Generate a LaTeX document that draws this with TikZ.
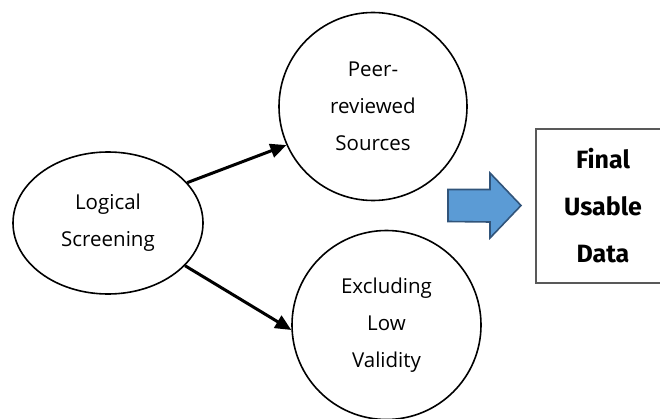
\documentclass[tikz,border=0pt]{standalone}
\usepackage{fontspec}
\setmainfont{Open Sans}
\newfontfamily\boxfont{Fira Sans}
\usepackage{tikz}
\usetikzlibrary{arrows.meta, positioning, shapes.geometric}
\definecolor{myblue}{RGB}{91,155,213}
\definecolor{mynavy}{RGB}{49,84,122}
\definecolor{mygray}{RGB}{89,89,89}

\begin{document}
\begin{tikzpicture}[x=1pt, y=1pt,
    arrow/.style={-{Triangle[length=16pt, width=14pt]}, line width=3pt, draw=black},
    bubble/.style={circle, draw=black, line width=1.6pt, minimum size=188pt, inner sep=0pt,
        align=center, font=\fontsize{20.5}{37}\selectfont},
    result/.style={draw=mygray, line width=1.2pt, minimum width=134pt, minimum height=154pt,
        align=center, font=\boxfont\bfseries\fontsize{25}{47}\selectfont}
]
    \useasboundingbox (0,0) rectangle (660,418);

    % Logical Screening ellipse (start)
    \node[ellipse, draw=black, line width=1.6pt, minimum width=190pt, minimum height=142pt,
          inner sep=0pt, align=center, font=\fontsize{20.5}{37}\selectfont] (screen) at (108,195) {Logical\\Screening};

    % Two filter circles
    \node[bubble] (peer) at (373,311.5) {Peer-\\reviewed\\Sources};
    \node[bubble, minimum size=189pt] (excl) at (386.5,93) {Excluding\\Low\\Validity};

    % Final result box, right side runs off the page
    \node[result] (final) at (603,212) {Final\\Usable\\Data};

    % Block arrow towards the result
    \coordinate (blk_tail) at (448,212.5);
    \draw[line width=1.6pt, draw=mynavy, fill=myblue, line join=miter]
        ([yshift=16pt]blk_tail) -- ++(42,0) -- ++(0,16.5) -- (521,212.5) coordinate (blk_tip)
        -- (490,180) -- ++(0,16) -- ([yshift=-16pt]blk_tail) -- cycle;

    % Draw connections
    \draw[arrow] (screen.27) -- (peer.204);
    \draw[arrow] (screen.-29) -- (excl.183);

\end{tikzpicture}
\end{document}
